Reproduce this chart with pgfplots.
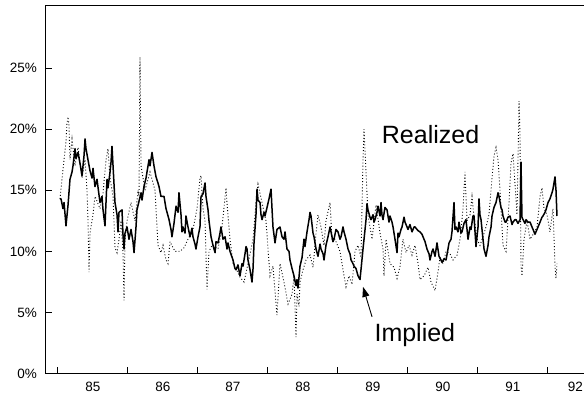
\documentclass[border=0pt]{standalone}
\usepackage{fontspec}
\setmainfont{Liberation Sans}
\usepackage{pgfplots}
\pgfplotsset{compat=1.18}
\usepackage{pgfplotstable}
\usetikzlibrary{arrows.meta,calc}

% implied volatility (solid), % per year
\pgfplotstableread{
yr vol
84.531 14.3
84.546 14.3
84.574 13.5
84.589 14.0
84.617 12.1
84.646 13.8
84.674 15.9
84.703 16.5
84.717 17.0
84.746 18.4
84.760 17.6
84.789 18.1
84.817 17.2
84.846 16.2
84.874 17.8
84.889 19.2
84.903 18.4
84.931 17.5
84.960 16.6
84.989 16.0
85.003 16.8
85.031 15.3
85.060 15.9
85.089 14.6
85.103 14.0
85.131 14.5
85.146 13.4
85.174 12.1
85.203 15.9
85.217 15.2
85.246 16.5
85.260 17.3
85.274 18.6
85.289 17.0
85.317 14.0
85.346 13.0
85.360 11.6
85.374 13.2
85.417 13.4
85.431 11.4
85.446 10.2
85.460 11.5
85.489 12.0
85.517 11.0
85.546 11.8
85.574 10.8
85.589 9.9
85.617 12.0
85.631 13.4
85.660 14.1
85.689 14.8
85.703 14.2
85.731 15.3
85.760 16.0
85.803 17.5
85.817 17.0
85.846 18.1
85.874 17.0
85.903 16.1
85.931 15.6
85.946 15.3
85.974 14.5
86.017 14.5
86.046 13.5
86.089 12.6
86.117 11.8
86.131 11.2
86.160 12.3
86.189 13.7
86.217 13.2
86.231 14.8
86.260 13.0
86.274 11.6
86.289 12.0
86.317 11.5
86.331 12.9
86.360 12.0
86.389 11.2
86.417 11.9
86.431 11.2
86.460 10.6
86.474 10.2
86.503 11.2
86.531 12.0
86.546 14.5
86.574 14.7
86.603 15.6
86.617 14.5
86.646 13.4
86.660 12.5
86.689 11.2
86.717 10.5
86.746 9.9
86.760 10.8
86.789 10.7
86.817 11.5
86.831 12.0
86.860 11.0
86.889 11.2
86.917 10.2
86.931 10.7
86.960 10.0
87.003 9.3
87.031 8.6
87.046 8.5
87.074 8.9
87.103 8.0
87.131 9.0
87.146 8.8
87.174 9.8
87.189 10.4
87.203 10.2
87.217 9.3
87.246 8.5
87.274 7.5
87.289 8.6
87.303 10.7
87.331 13.0
87.346 15.1
87.360 14.2
87.389 14.0
87.403 13.0
87.417 12.6
87.446 13.2
87.460 12.9
87.489 13.6
87.517 14.3
87.546 15.1
87.560 13.5
87.574 12.0
87.603 10.7
87.631 11.8
87.674 12.0
87.703 11.2
87.731 11.0
87.746 11.6
87.774 10.2
87.803 10.0
87.817 9.3
87.846 8.6
87.874 8.0
87.903 7.2
87.917 7.7
87.931 7.0
87.960 8.8
87.989 9.5
88.017 11.0
88.031 10.4
88.060 11.6
88.089 12.6
88.103 13.2
88.117 12.9
88.146 11.5
88.160 11.2
88.189 10.2
88.217 9.6
88.246 10.6
88.260 10.2
88.289 9.8
88.303 9.3
88.331 10.5
88.360 11.2
88.389 12.0
88.403 11.6
88.431 10.8
88.446 11.0
88.474 11.8
88.503 11.6
88.531 11.0
88.546 11.2
88.574 12.0
88.589 11.6
88.617 11.0
88.646 10.2
88.674 9.8
88.689 9.3
88.717 9.0
88.731 8.8
88.760 8.6
88.789 8.0
88.817 7.7
88.831 8.5
88.860 10.2
88.889 11.8
88.903 12.6
88.917 13.9
88.931 13.4
88.960 12.8
88.974 12.6
89.003 13.0
89.017 12.4
89.031 12.6
89.060 13.2
89.074 13.7
89.103 12.9
89.117 14.0
89.131 13.0
89.146 12.6
89.174 13.6
89.203 13.4
89.231 12.4
89.246 12.9
89.274 12.4
89.289 12.0
89.317 11.0
89.346 9.9
89.360 11.5
89.374 11.2
89.403 11.8
89.417 12.0
89.446 12.8
89.460 12.4
89.489 12.0
89.503 11.8
89.531 12.2
89.560 11.6
89.589 12.0
89.603 12.0
89.646 11.7
89.674 11.6
89.703 11.4
89.717 11.2
89.746 10.8
89.774 10.2
89.803 9.8
89.817 9.3
89.846 10.0
89.860 10.2
89.889 9.6
89.917 10.7
89.946 9.6
89.974 9.3
89.989 9.1
90.017 9.4
90.046 9.3
90.074 10.2
90.089 10.7
90.117 11.0
90.131 11.6
90.160 14.0
90.174 11.8
90.189 12.0
90.217 11.6
90.231 12.4
90.260 11.5
90.274 11.6
90.303 12.3
90.331 12.6
90.346 11.8
90.360 11.0
90.389 12.0
90.403 11.8
90.431 12.9
90.446 12.9
90.460 11.6
90.474 10.4
90.503 12.0
90.517 14.3
90.531 13.0
90.546 12.6
90.574 11.0
90.589 10.2
90.617 9.6
90.646 10.5
90.660 11.2
90.689 12.0
90.703 12.9
90.731 13.6
90.760 14.0
90.789 14.8
90.803 14.5
90.831 13.6
90.846 13.4
90.860 12.9
90.889 12.4
90.903 12.4
90.931 12.8
90.960 12.9
90.989 12.2
91.003 12.4
91.031 12.6
91.046 12.6
91.074 12.3
91.103 12.6
91.117 17.3
91.131 12.8
91.146 12.6
91.174 12.3
91.189 12.6
91.217 12.4
91.246 12.4
91.274 12.0
91.289 11.8
91.317 11.4
91.331 11.6
91.360 12.0
91.389 12.4
91.417 12.8
91.431 12.9
91.460 13.2
91.474 13.4
91.503 14.0
91.531 14.3
91.560 14.8
91.574 15.1
91.603 16.1
91.617 15.0
91.631 12.9
}\implied

% realized volatility (dotted)
\pgfplotstableread{
yr vol
84.531 14.3
84.574 16.7
84.617 19.0
84.631 20.5
84.646 21.0
84.660 20.3
84.674 17.5
84.703 19.2
84.746 17.0
84.789 18.5
84.846 16.0
84.889 17.5
84.917 15.0
84.931 12.6
84.946 8.3
84.960 11.5
85.003 13.0
85.031 14.5
85.103 13.5
85.146 14.8
85.189 17.5
85.217 18.4
85.246 16.0
85.289 14.5
85.317 10.3
85.346 9.9
85.374 11.0
85.403 12.5
85.431 10.0
85.446 6.0
85.460 11.0
85.489 12.5
85.546 14.0
85.603 12.5
85.646 15.0
85.660 14.5
85.674 25.9
85.689 17.0
85.746 15.0
85.817 16.5
85.889 15.0
85.931 10.5
85.974 9.9
86.003 10.5
86.046 9.3
86.074 9.0
86.103 10.8
86.174 10.0
86.246 10.0
86.303 10.3
86.360 11.0
86.431 11.8
86.489 13.5
86.531 16.0
86.546 16.2
86.574 13.5
86.603 12.5
86.631 6.9
86.660 10.0
86.703 10.5
86.789 10.2
86.846 12.0
86.903 15.2
86.917 14.0
86.931 13.0
86.960 11.0
87.003 9.0
87.046 8.6
87.103 7.9
87.160 7.5
87.217 9.0
87.289 11.0
87.331 14.0
87.360 15.5
87.417 14.0
87.474 12.5
87.531 8.0
87.574 8.8
87.631 4.8
87.674 9.0
87.731 7.5
87.789 5.7
87.846 6.5
87.874 8.0
87.903 3.0
87.917 6.5
87.946 5.5
87.960 7.5
88.003 8.5
88.046 9.3
88.103 9.7
88.146 8.7
88.189 11.5
88.217 13.0
88.260 12.0
88.303 10.5
88.331 12.5
88.389 14.0
88.417 11.0
88.460 11.0
88.531 10.0
88.574 8.5
88.617 7.1
88.660 8.0
88.703 7.3
88.746 10.0
88.789 10.5
88.831 9.5
88.860 17.5
88.874 20.0
88.903 16.5
88.931 13.0
88.989 11.0
89.046 13.8
89.103 11.5
89.146 10.2
89.160 8.0
89.189 11.0
89.246 9.0
89.303 8.7
89.346 7.8
89.389 8.8
89.431 11.0
89.474 9.9
89.517 10.5
89.560 9.7
89.603 10.5
89.646 9.0
89.674 7.7
89.731 8.0
89.789 8.7
89.831 7.5
89.889 6.8
89.931 8.3
89.960 9.5
90.003 9.0
90.046 10.0
90.103 9.8
90.146 9.3
90.203 9.7
90.246 11.0
90.289 13.5
90.317 16.5
90.346 12.5
90.389 13.0
90.417 14.5
90.446 12.8
90.489 11.0
90.531 10.5
90.574 11.2
90.617 12.0
90.660 13.0
90.703 16.0
90.731 17.8
90.760 18.5
90.789 17.5
90.817 15.0
90.860 10.5
90.903 10.0
90.946 14.0
90.974 17.2
91.003 18.0
91.031 15.5
91.060 13.0
91.089 22.3
91.103 19.5
91.117 8.8
91.131 8.0
91.160 11.0
91.203 12.5
91.246 11.0
91.303 11.5
91.346 12.0
91.389 14.5
91.417 15.2
91.446 13.5
91.489 13.0
91.531 11.6
91.574 13.5
91.603 8.8
91.617 7.8
91.631 9.0
}\realized

\begin{document}
\begin{tikzpicture}
\begin{axis}[
    scale only axis,
    width=539bp, height=368bp,
    xmin=84.317, xmax=92.017,
    ymin=0, ymax=30.1,
    axis x line*=bottom, axis y line*=left,
    axis line style={line width=1bp, black},
    tick align=inside,
    xtick={84.5,85.5,...,91.5}, xticklabels={},
    extra x ticks={85,86,87,88,89,90,91,92},
    extra x tick labels={85,86,87,88,89,90,91,\makebox[0pt][r]{92}},
    extra x tick style={major tick length=0pt},
    ytick={0,5,10,15,20,25},
    yticklabels={0\%,5\%,10\%,15\%,20\%,25\%},
    major tick length=7bp,
    tick style={line width=1bp, black},
    ticklabel style={font=\fontsize{13.5bp}{16bp}\selectfont, inner sep=0pt},
    yticklabel style={xshift=-8bp},
    xticklabel style={yshift=-8bp},
    clip=false,
]
\addplot[black, line width=0.9bp, dash pattern=on 0.9bp off 2.2bp] table[x=yr, y=vol] {\realized};
\addplot[black, line width=1.5bp, line join=round] table[x=yr, y=vol] {\implied};
\draw[black, line width=1bp] (rel axis cs:0,1) -- (rel axis cs:1,1);
\node[anchor=base west, inner sep=0pt, font=\fontsize{25bp}{30bp}\selectfont]
    at (axis cs:89.127,18.85) {Realized};
\node[anchor=base west, inner sep=0pt, font=\fontsize{25bp}{30bp}\selectfont]
    at (axis cs:89.022,2.64) {Implied};
\draw[black, line width=0.9bp, -{Triangle[length=10bp,width=7bp]}]
    (axis cs:88.989,4.65) -- (axis cs:88.860,7.1);
\end{axis}
\pgfresetboundingbox
\path ($(current axis.south west)+(-45bp,-26bp)$) rectangle ($(current axis.north east)+(0bp,5.7bp)$);
\end{tikzpicture}
\end{document}
